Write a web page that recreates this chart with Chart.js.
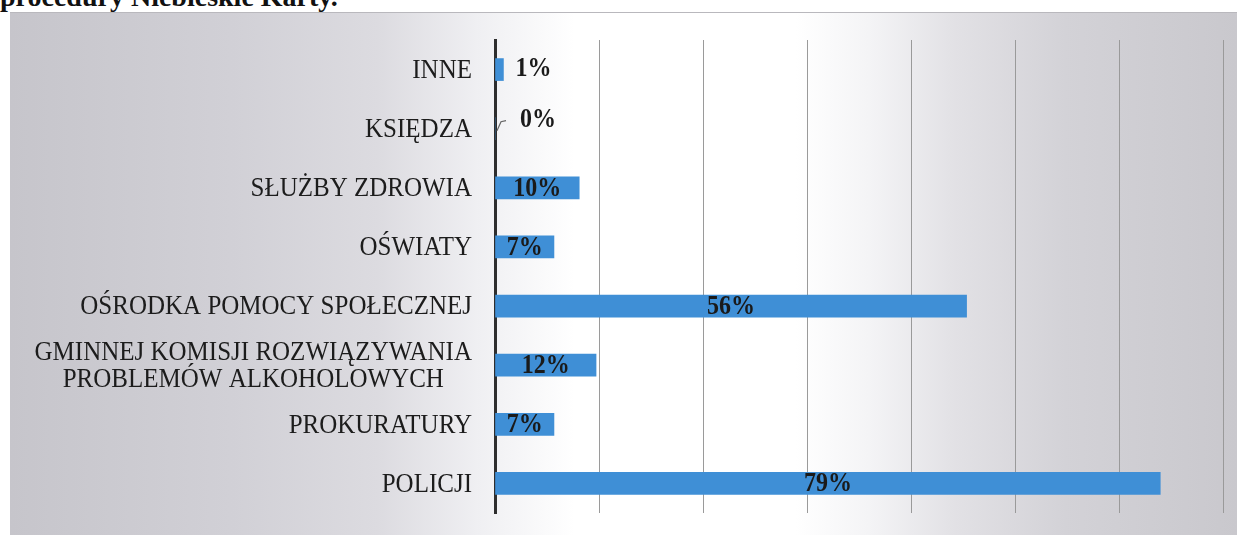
<html>
<head>
	<meta charset="utf-8">
	<title>Zgłoszenia - Niebieskie Karty</title>
	<script src="https://cdn.jsdelivr.net/npm/chart.js@4/dist/chart.umd.min.js"></script>
	<style>
		body { margin: 0; width: 1237px; height: 535px; overflow: hidden; background: #fff; position: relative; }
		#naglowek { position: absolute; left: 0; top: -17px; font: bold 28px "Liberation Serif", serif; line-height: 28px; color: #111; white-space: nowrap; }
		#tlo { position: absolute; left: 10px; top: 12px; width: 1227px; height: 523px; border-top: 1px solid #b9b8bd;
			background: linear-gradient(to right, #c6c5cb 0%, #d1d0d6 18%, #dcdbe0 30%, #efeff2 38%, #ffffff 46%, #ffffff 64%, #f4f4f6 70%, #e2e1e5 77%, #d3d2d7 86%, #c9c8cd 100%); }
		#wykres { position: absolute; left: 0; top: 0; width: 1237px; height: 535px; }
	</style>
</head>
<body>
	<div id="naglowek">procedury Niebieskie Karty.</div>
	<div id="tlo"></div>
	<div id="wykres"><canvas id="myChart"></canvas></div>

	<script>
		// kategorie (od gory do dolu)
		var kategorie = [
			'INNE',
			'KSIĘDZA',
			'SŁUŻBY ZDROWIA',
			'OŚWIATY',
			'OŚRODKA POMOCY SPOŁECZNEJ',
			['GMINNEJ KOMISJI ROZWIĄZYWANIA', 'PROBLEMÓW ALKOHOLOWYCH'],
			'PROKURATURY',
			'POLICJI'
		];

		// wartosci w procentach
		var wartosci = [1, 0, 10, 7, 56, 12, 7, 79];

		// os X: krok siatki i liczba linii
		var krokSiatki = 12.35;
		var liczbaKrokow = 7;

		var czcionka = '"Liberation Serif", "Times New Roman", serif';
		var rozciagniecie = 1.1; // skan jest lekko rozciagniety w pionie

		// rysuje tekst rozciagniety w pionie
		function tekstPion(ctx, tekst, x, y) {
			ctx.save();
			ctx.translate(x, y);
			ctx.scale(1, rozciagniecie);
			ctx.fillText(tekst, 0, 0);
			ctx.restore();
		}

		// podpisy kategorii (druga linia wysrodkowana wzgledem pierwszej)
		var podpisyKategorii = {
			id: 'podpisyKategorii',
			afterDraw: function(chart) {
				var ctx = chart.ctx;
				var y = chart.scales.y;
				var prawa = chart.chartArea.left - 23;
				ctx.save();
				ctx.font = '25px ' + czcionka;
				ctx.fillStyle = '#1c1c1c';
				ctx.textBaseline = 'middle';
				ctx.textAlign = 'center';
				for (var i = 0; i < kategorie.length; i++) {
					var linie = Array.isArray(kategorie[i]) ? kategorie[i] : [kategorie[i]];
					var szer = 0;
					for (var k = 0; k < linie.length; k++) {
						szer = Math.max(szer, ctx.measureText(linie[k]).width);
					}
					var srodek = prawa - szer / 2;
					var yc = y.getPixelForTick(i) + 1;
					var wys = 27;
					for (var k = 0; k < linie.length; k++) {
						tekstPion(ctx, linie[k], srodek, yc + (k - (linie.length - 1) / 2) * wys);
					}
				}
				ctx.restore();
			}
		};

		// etykiety z procentami na slupkach
		var etykietyDanych = {
			id: 'etykietyDanych',
			afterDatasetsDraw: function(chart) {
				var ctx = chart.ctx;
				var meta = chart.getDatasetMeta(0);
				ctx.save();
				ctx.font = 'bold 24px ' + czcionka;
				ctx.fillStyle = '#1a1a1a';
				ctx.textBaseline = 'middle';
				for (var i = 0; i < meta.data.length; i++) {
					var bar = meta.data[i];
					var tekst = wartosci[i] + '%';
					if (wartosci[i] === 0) {
						// linia odniesienia dla zera
						ctx.strokeStyle = '#666';
						ctx.lineWidth = 1.2;
						ctx.beginPath();
						ctx.moveTo(bar.base + 2, bar.y + 2);
						ctx.lineTo(bar.base + 6, bar.y - 7);
						ctx.lineTo(bar.base + 11, bar.y - 8);
						ctx.stroke();
						ctx.textAlign = 'left';
						tekstPion(ctx, tekst, bar.base + 25, bar.y - 9);
					} else if (wartosci[i] < 5) {
						ctx.textAlign = 'left';
						tekstPion(ctx, tekst, bar.x + 12, bar.y);
					} else {
						ctx.textAlign = 'center';
						tekstPion(ctx, tekst, (bar.base + bar.x) / 2, bar.y + 1);
					}
				}
				ctx.restore();
			}
		};

		var ctx = document.getElementById('myChart').getContext('2d');
		var chart = new Chart(ctx, {
			type: 'bar',
			data: {
				labels: kategorie,
				datasets: [{
					data: wartosci,
					backgroundColor: '#3f8fd6',
					borderWidth: 0,
					barThickness: 22
				}]
			},
			options: {
				indexAxis: 'y',
				responsive: true,
				maintainAspectRatio: false,
				animation: false,
				layout: { padding: { top: 40, right: 14, bottom: 22, left: 0 } },
				plugins: {
					legend: { display: false },
					title: { display: false },
					tooltip: { enabled: false }
				},
				scales: {
					x: {
						min: 0,
						max: krokSiatki * liczbaKrokow,
						ticks: { display: false, stepSize: krokSiatki },
						grid: { color: '#9a9a9a', lineWidth: 1, drawTicks: false },
						border: { display: false },
						afterFit: function(scale) { scale.height = 0; }
					},
					y: {
						ticks: { display: false },
						grid: { display: false, drawTicks: false },
						border: { display: true, color: '#2e2e2e', width: 3 },
						afterFit: function(scale) { scale.width = 495; }
					}
				}
			},
			plugins: [podpisyKategorii, etykietyDanych]
		});
	</script>
</body>
</html>
